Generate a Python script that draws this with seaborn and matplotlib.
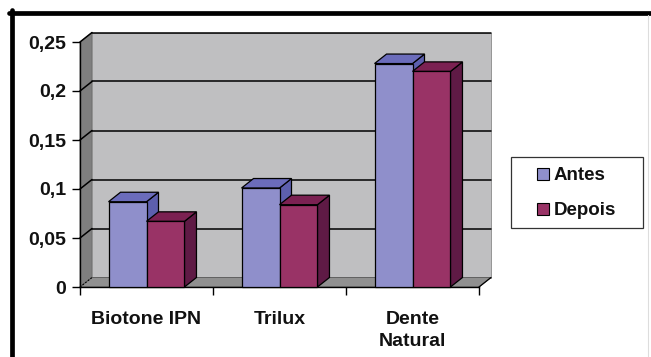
import matplotlib
matplotlib.use("Agg")
import matplotlib.pyplot as plt
import seaborn as sns
import pandas as pd
from matplotlib.patches import Polygon, Rectangle, Patch
from matplotlib.lines import Line2D

# ---------------- data ----------------
categories = ["Biotone IPN", "Trilux", "Dente\nNatural"]
series_names = ["Antes", "Depois"]
antes = [0.087, 0.101, 0.228]
depois = [0.067, 0.084, 0.220]
y_ticks = [0, 0.05, 0.10, 0.15, 0.20, 0.25]
y_tick_labels = ["0", "0,05", "0,1", "0,15", "0,2", "0,25"]

# ---------------- style ----------------
front_colors = {"Antes": "#8f8fcb", "Depois": "#993366"}
top_colors = {"Antes": "#6b6cbb", "Depois": "#7b2152"}
side_colors = {"Antes": "#5d5fae", "Depois": "#5f1a45"}
wall_color = "#bfbfc1"
side_wall_color = "#7f7f7f"
floor_color = "#909090"

sns.set_theme(style="white")
plt.rcParams["font.family"] = ["Liberation Sans", "DejaVu Sans"]
plt.rcParams["font.weight"] = "bold"

df = pd.DataFrame({
    "Categoria": categories * 2,
    "Série": [series_names[0]] * len(categories) + [series_names[1]] * len(categories),
    "Valor": antes + depois,
})

W, H = 651, 357
fig = plt.figure(figsize=(W / 100, H / 100), dpi=100)
fig.patch.set_facecolor("white")
ax = fig.add_axes([80 / W, 70 / H, 399 / W, 245 / H])
ax.patch.set_visible(False)

sns.barplot(data=df, x="Categoria", y="Valor", hue="Série", order=categories,
            hue_order=series_names, palette=front_colors, width=0.571,
            saturation=1, edgecolor="black", linewidth=0.9, errorbar=None,
            legend=False, ax=ax)

ax.set_xlim(-0.5, len(categories) - 0.5)
ax.set_ylim(0, 0.25)
xmin, xmax = ax.get_xlim()
ymax = ax.get_ylim()[1]

# depth offset (in data units) for the pseudo-3D look
dx = 12 * (xmax - xmin) / 399
dy = 9.5 * ymax / 245

# walls and floor
ax.add_patch(Polygon([(xmin, 0), (xmin + dx, dy), (xmin + dx, ymax + dy), (xmin, ymax)],
                     closed=True, facecolor=side_wall_color, edgecolor="#6a6a6a",
                     lw=0.6, zorder=0.1, clip_on=False))
ax.add_patch(Rectangle((xmin + dx, dy), xmax - xmin, ymax, facecolor=wall_color,
                       edgecolor="#8a8a8a", lw=0.6, zorder=0.1, clip_on=False))
ax.add_patch(Polygon([(xmin, 0), (xmax, 0), (xmax + dx, dy), (xmin + dx, dy)],
                     closed=True, facecolor=floor_color, edgecolor="#555555",
                     lw=0.6, zorder=0.2, clip_on=False))
for t in y_ticks[1:]:
    ax.add_line(Line2D([xmin + dx, xmax + dx], [t + dy, t + dy], color="black",
                       lw=1.1, zorder=0.3, clip_on=False))
    ax.add_line(Line2D([xmin, xmin + dx], [t, t + dy], color="black",
                       lw=1.1, zorder=0.3, clip_on=False))
ax.add_line(Line2D([xmin, xmin + dx], [0, dy], color="black", lw=0.8,
                   ls=(0, (1.5, 1.5)), zorder=0.3, clip_on=False))
ax.add_line(Line2D([xmax, xmax + dx], [0, dy], color="black", lw=0.9,
                   zorder=0.3, clip_on=False))

# 3D faces of the bars
for i, (name, cont) in enumerate(zip(series_names, ax.containers)):
    for bar in cont:
        x0, w, h = bar.get_x(), bar.get_width(), bar.get_height()
        side = Polygon([(x0 + w, 0), (x0 + w + dx, dy), (x0 + w + dx, h + dy), (x0 + w, h)],
                       closed=True, facecolor=side_colors[name], edgecolor="black",
                       lw=0.9, zorder=2 + 2 * i, clip_on=False)
        top = Polygon([(x0, h), (x0 + w, h), (x0 + w + dx, h + dy), (x0 + dx, h + dy)],
                      closed=True, facecolor=top_colors[name], edgecolor="black",
                      lw=0.9, zorder=2 + 2 * i, clip_on=False)
        ax.add_patch(side)
        ax.add_patch(top)
        bar.set_zorder(3 + 2 * i)
        bar.set_clip_on(False)

# axes cosmetics
for s in ["top", "right"]:
    ax.spines[s].set_visible(False)
for s in ["left", "bottom"]:
    ax.spines[s].set_color("black")
    ax.spines[s].set_linewidth(1.0)
    ax.spines[s].set_zorder(1)
ax.set_xlabel("")
ax.set_ylabel("")
ax.set_yticks(y_ticks, y_tick_labels)
ax.set_xticks(range(len(categories)), categories)
ax.set_xticks([k - 0.5 for k in range(len(categories) + 1)], minor=True)
ax.tick_params(axis="y", left=True, length=6, width=1, color="black",
               direction="out", labelsize=14, pad=4, labelcolor="#111111")
ax.tick_params(axis="x", which="major", bottom=True, length=0, labelsize=14,
               pad=17, labelcolor="#111111")
ax.tick_params(axis="x", which="minor", bottom=True, length=6, width=1,
               color="black", direction="out")
for lab in ax.get_xticklabels() + ax.get_yticklabels():
    lab.set_fontweight("bold")
    lab.set_linespacing(1.38)

# legend
fig.patches.append(Rectangle((511 / W, (H - 228) / H), 132 / W, 71 / H,
                             transform=fig.transFigure, facecolor="white",
                             edgecolor="#333333", lw=0.9, zorder=5))
handles = [Patch(facecolor=front_colors[n], edgecolor="black", lw=0.8) for n in series_names]
leg = fig.legend(handles, series_names, loc="upper left",
                 bbox_to_anchor=(528 / W, (H - 158) / H), frameon=False,
                 borderpad=0, handlelength=0.6, handleheight=0.6,
                 handletextpad=0.25, labelspacing=0.95,
                 prop={"size": 13.5, "weight": "bold"})
leg.set_zorder(6)
for txt in leg.get_texts():
    txt.set_color("#111111")

# figure frame (thick black top/left edges)
fig.add_artist(Line2D([9 / W, 1], [(H - 12.5) / H] * 2, transform=fig.transFigure,
                      color="black", lw=3.4))
fig.add_artist(Line2D([11.5 / W] * 2, [0, (H - 10) / H], transform=fig.transFigure,
                      color="black", lw=3.4))
fig.add_artist(Line2D([648 / W] * 2, [0, (H - 15) / H], transform=fig.transFigure,
                      color="#dddddd", lw=0.8))

fig.savefig("out.png", dpi=100)
